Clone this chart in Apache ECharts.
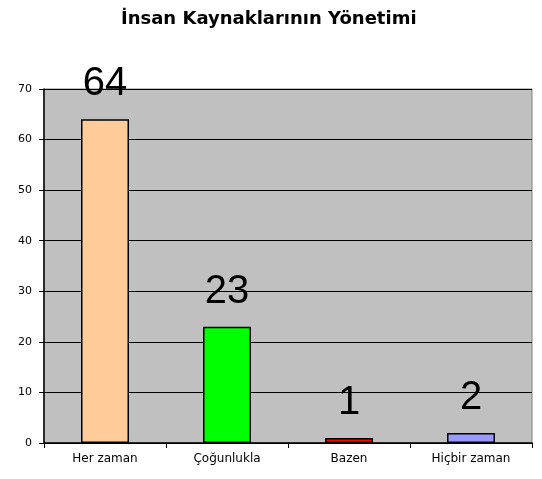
<!DOCTYPE html>
<html><head><meta charset="utf-8">
<script src="https://cdn.jsdelivr.net/npm/echarts@6/dist/echarts.min.js"></script>
<style>html,body{margin:0;padding:0;background:#fff}#c{width:542px;height:479px}</style>
</head><body><div id="c"></div>
<script>
const title = 'İnsan Kaynaklarının Yönetimi';
const categories = ['Her zaman', 'Çoğunlukla', 'Bazen', 'Hiçbir zaman'];
const values = [64, 23, 1, 2];
const colors = ['#FFCC99', '#00FF00', '#FF0000', '#9999FF'];
const yTicks = [0, 10, 20, 30, 40, 50, 60, 70];

const chart = echarts.init(document.getElementById('c'));
chart.setOption({
  animation: false,
  backgroundColor: '#ffffff',
  title: {
    text: title, left: 116, top: 5,
    textStyle: {fontFamily: 'DejaVu Sans', fontWeight: 'bold', fontSize: 18, color: '#000'}
  },
  grid: {left: 44, top: 89, width: 488, height: 354, show: true, backgroundColor: '#C0C0C0', borderColor: '#808080', borderWidth: 1},
  xAxis: {
    type: 'category', data: categories,
    axisLine: {lineStyle: {color: '#000', width: 1.5}},
    axisTick: {show: true, alignWithLabel: false, length: 5, lineStyle: {color: '#000'}},
    axisLabel: {fontFamily: 'DejaVu Sans', fontSize: 12, color: '#000', margin: 10}
  },
  yAxis: {
    type: 'value', min: yTicks[0], max: yTicks[yTicks.length - 1], interval: 10,
    axisLine: {show: true, lineStyle: {color: '#000', width: 1.5}},
    axisTick: {show: true, length: 5, lineStyle: {color: '#000'}},
    axisLabel: {fontFamily: 'DejaVu Sans', fontSize: 11, color: '#000', margin: 12},
    splitLine: {show: true, lineStyle: {color: '#000', width: 1.2}}
  },
  series: [{
    type: 'bar', barWidth: 48,
    data: values.map((v, i) => ({value: v, itemStyle: {color: colors[i], borderColor: '#000', borderWidth: 1.5}})),
    label: {show: true, position: 'top', distance: 15, fontFamily: 'Liberation Sans, Arial', fontSize: 40, color: '#000'}
  }]
});
</script></body></html>
